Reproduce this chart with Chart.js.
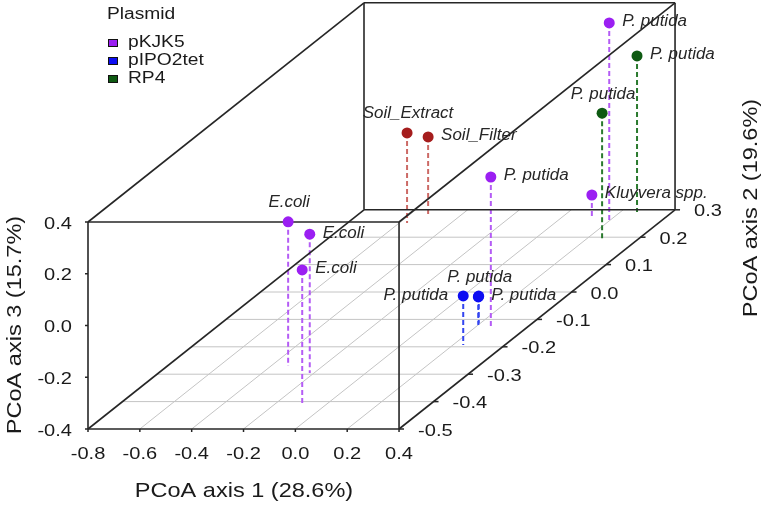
<!DOCTYPE html>
<html>
<head>
<meta charset="utf-8">
<script src="https://cdn.jsdelivr.net/npm/chart.js@4.4.1/dist/chart.umd.min.js"></script>
<style>
  html, body { margin: 0; padding: 0; background: #fff; }
  #wrap { width: 768px; height: 507px; position: relative; }
</style>
</head>
<body>
<div id="wrap"><canvas id="pcoa"></canvas></div>
<script>
// ─────────────────────────────────────────────
// DATA
// ─────────────────────────────────────────────
const SAMPLES = ['E.coli', 'E.coli', 'E.coli', 'Soil_Extract', 'Soil_Filter', 'P. putida',
                 'Kluyvera spp.', 'P. putida', 'P. putida', 'P. putida',
                 'P. putida', 'P. putida', 'P. putida'];
const PLASMID = ['pKJK5', 'pKJK5', 'pKJK5', 'Soil', 'Soil', 'pKJK5',
                 'pKJK5', 'pKJK5', 'RP4', 'RP4',
                 'pIPO2tet', 'pIPO2tet', 'pIPO2tet'];
const AXIS1 = [-0.334, -0.216, -0.100, -0.570, -0.518, 0.259, 0.119, 0.210, 0.264, 0.265, 0.239, 0.200, 0.195];
const AXIS2 = [-0.270, -0.296, -0.405, 0.252, 0.274, -0.128, 0.270, 0.252, 0.292, 0.190, -0.193, -0.120, -0.115];
const AXIS3 = [0.157, 0.137, 0.114, -0.052, -0.091, 0.180, -0.311, 0.373, 0.203, 0.090, -0.211, -0.292, -0.294];

const AXIS1_TICKS = [-0.8, -0.6, -0.4, -0.2, 0.0, 0.2, 0.4];
const AXIS2_TICKS = [-0.5, -0.4, -0.3, -0.2, -0.1, 0.0, 0.1, 0.2, 0.3];
const AXIS3_TICKS = [-0.4, -0.2, 0.0, 0.2, 0.4];

const TITLE_X = 'PCoA axis 1 (28.6%)';
const TITLE_DEPTH = 'PCoA axis 2 (19.6%)';
const TITLE_Z = 'PCoA axis 3 (15.7%)';
const LEGEND_TITLE = 'Plasmid';
const LEGEND_ITEMS = ['pKJK5', 'pIPO2tet', 'RP4'];

// label placement per sample (style, not data)
const LABEL_SIDE = ['top', 'right', 'right', 'top', 'right', 'right',
                    'right', 'right', 'right', 'top',
                    'left', 'right', 'top'];

const COLORS = { pKJK5: '#9b1ff2', pIPO2tet: '#0d0df2', RP4: '#0e5a12', Soil: '#a51d1d' };
const DROP_COLORS = { pKJK5: '#b45cf5', pIPO2tet: '#3345f0', RP4: '#2a7a2e', Soil: '#cc6a66' };

// ─────────────────────────────────────────────
// OBLIQUE PROJECTION (depth axis shifts right/up)
// ─────────────────────────────────────────────
const X_MIN = AXIS1_TICKS[0], X_MAX = AXIS1_TICKS[AXIS1_TICKS.length - 1];
const D_MIN = AXIS2_TICKS[0], D_MAX = AXIS2_TICKS[AXIS2_TICKS.length - 1];
const Z_MIN = AXIS3_TICKS[0], Z_MAX = AXIS3_TICKS[AXIS3_TICKS.length - 1];
const PX_X = 259.2, PX_Z = 258.75;          // px per unit on the front face
const KX = 345 / PX_X, KY = 274 / PX_Z;     // depth shift per unit depth

function proj(a1, a2, a3) {
  return { x: a1 + (a2 - D_MIN) * KX, y: a3 + (a2 - D_MIN) * KY };
}

function seg(p, q, color, width, dash) {
  return {
    type: 'line', data: [p, q], borderColor: color, borderWidth: width,
    borderDash: dash || [], pointRadius: 0, showLine: true, fill: false,
  };
}

// floor grid
const gridSets = [];
AXIS1_TICKS.slice(1, -1).forEach(t =>
  gridSets.push(seg(proj(t, D_MIN, Z_MIN), proj(t, D_MAX, Z_MIN), '#c4c4c4', 1)));
AXIS2_TICKS.slice(1, -1).forEach(d =>
  gridSets.push(seg(proj(X_MIN, d, Z_MIN), proj(X_MAX, d, Z_MIN), '#c4c4c4', 1)));
gridSets.forEach(s => s.order = 5);

// box wireframe
const boxSets = [];
[D_MIN, D_MAX].forEach(d => {
  boxSets.push(seg(proj(X_MIN, d, Z_MIN), proj(X_MAX, d, Z_MIN), '#262626', 1.6));
  boxSets.push(seg(proj(X_MIN, d, Z_MAX), proj(X_MAX, d, Z_MAX), '#262626', 1.6));
  boxSets.push(seg(proj(X_MIN, d, Z_MIN), proj(X_MIN, d, Z_MAX), '#262626', 1.6));
  boxSets.push(seg(proj(X_MAX, d, Z_MIN), proj(X_MAX, d, Z_MAX), '#262626', 1.6));
});
[[X_MIN, Z_MIN], [X_MAX, Z_MIN], [X_MIN, Z_MAX], [X_MAX, Z_MAX]].forEach(([a, c]) =>
  boxSets.push(seg(proj(a, D_MIN, c), proj(a, D_MAX, c), '#262626', 1.6)));
boxSets.forEach(s => s.order = 2);

// drop lines
const dropSets = SAMPLES.map((_, i) => {
  const s = seg(proj(AXIS1[i], AXIS2[i], AXIS3[i]), proj(AXIS1[i], AXIS2[i], Z_MIN),
                DROP_COLORS[PLASMID[i]], 2, [5, 3]);
  s.order = 4;
  return s;
});

const pointSet = {
  type: 'scatter',
  data: SAMPLES.map((_, i) => proj(AXIS1[i], AXIS2[i], AXIS3[i])),
  pointRadius: 5.5,
  pointBackgroundColor: PLASMID.map(p => COLORS[p]),
  pointBorderColor: PLASMID.map(p => COLORS[p]),
  pointBorderWidth: 0,
  order: 1,
};

// ─────────────────────────────────────────────
// TEXT / TICKS
// ─────────────────────────────────────────────
function txt(ctx, s, x, y, o) {
  ctx.save();
  ctx.translate(x, y);
  if (o.rot) ctx.rotate(o.rot);
  ctx.scale(o.sx || 1, 1);
  ctx.font = (o.italic ? 'italic ' : '') + o.size + 'px "Liberation Sans", Arial, sans-serif';
  ctx.textAlign = o.align || 'center';
  ctx.textBaseline = 'middle';
  ctx.fillStyle = o.color || '#1a1a1a';
  ctx.fillText(s, 0, 0);
  ctx.restore();
}

const decor = {
  id: 'decor',
  afterDatasetsDraw(chart) {
    const { ctx, scales: { x, y } } = chart;
    const P = (a1, a2, a3) => {
      const p = proj(a1, a2, a3);
      return [x.getPixelForValue(p.x), y.getPixelForValue(p.y)];
    };
    ctx.save();
    ctx.strokeStyle = '#262626';
    ctx.lineWidth = 1.5;

    // axis 1 ticks along front bottom edge
    AXIS1_TICKS.forEach(t => {
      const [px, py] = P(t, D_MIN, Z_MIN);
      ctx.beginPath(); ctx.moveTo(px, py); ctx.lineTo(px, py + 3); ctx.stroke();
      txt(ctx, t.toFixed(1), px, py + 25, { size: 17, sx: 1.18 });
    });
    // axis 3 ticks along front left edge
    AXIS3_TICKS.forEach(t => {
      const [px, py] = P(X_MIN, D_MIN, t);
      ctx.beginPath(); ctx.moveTo(px, py); ctx.lineTo(px - 3, py); ctx.stroke();
      txt(ctx, t.toFixed(1), px - 16, py + 2, { size: 17, sx: 1.18, align: 'right' });
    });
    // axis 2 ticks along bottom right depth edge
    AXIS2_TICKS.forEach(t => {
      const [px, py] = P(X_MAX, t, Z_MIN);
      ctx.beginPath(); ctx.moveTo(px, py); ctx.lineTo(px + 5, py); ctx.stroke();
      txt(ctx, t.toFixed(1), px + 19, py + 2, { size: 17, sx: 1.18, align: 'left' });
    });

    // axis titles
    txt(ctx, TITLE_X, 244, 491, { size: 21, sx: 1.12 });
    txt(ctx, TITLE_Z, 15, 325, { size: 21, sx: 1.12, rot: -Math.PI / 2 });
    txt(ctx, TITLE_DEPTH, 751, 208, { size: 21, sx: 1.12, rot: -Math.PI / 2 });

    // legend
    txt(ctx, LEGEND_TITLE, 107, 15, { size: 16, sx: 1.2, align: 'left' });
    LEGEND_ITEMS.forEach((name, i) => {
      const ly = 43 + i * 18;
      ctx.fillStyle = COLORS[name];
      ctx.fillRect(108, ly - 4, 10, 8);
      ctx.lineWidth = 1;
      ctx.strokeStyle = '#111';
      ctx.strokeRect(108.5, ly - 3.5, 9, 7);
      txt(ctx, name, 128, ly, { size: 16, sx: 1.2, align: 'left' });
    });

    // sample labels
    SAMPLES.forEach((name, i) => {
      const [px, py] = P(AXIS1[i], AXIS2[i], AXIS3[i]);
      const side = LABEL_SIDE[i];
      const o = { size: 16, sx: 1.06, italic: true, color: '#262626' };
      if (side === 'top') txt(ctx, name, px + 1, py - 19, o);
      else if (side === 'left') txt(ctx, name, px - 15, py, Object.assign(o, { align: 'right' }));
      else txt(ctx, name, px + 13, py - 1, Object.assign(o, { align: 'left' }));
    });
    ctx.restore();
  },
};

// ─────────────────────────────────────────────
// CHART
// ─────────────────────────────────────────────
new Chart(document.getElementById('pcoa'), {
  type: 'scatter',
  data: { datasets: [...gridSets, ...boxSets, ...dropSets, pointSet] },
  options: {
    responsive: true,
    maintainAspectRatio: false,
    animation: false,
    events: [],
    layout: { padding: 0, autoPadding: false },
    plugins: { legend: { display: false }, tooltip: { enabled: false } },
    scales: {
      x: { type: 'linear', display: false, min: X_MIN - 88 / PX_X, max: X_MIN + (768 - 88) / PX_X },
      y: { type: 'linear', display: false, min: Z_MIN - 78 / PX_Z, max: Z_MIN + 429 / PX_Z },
    },
  },
  plugins: [decor],
});
</script>
</body>
</html>
